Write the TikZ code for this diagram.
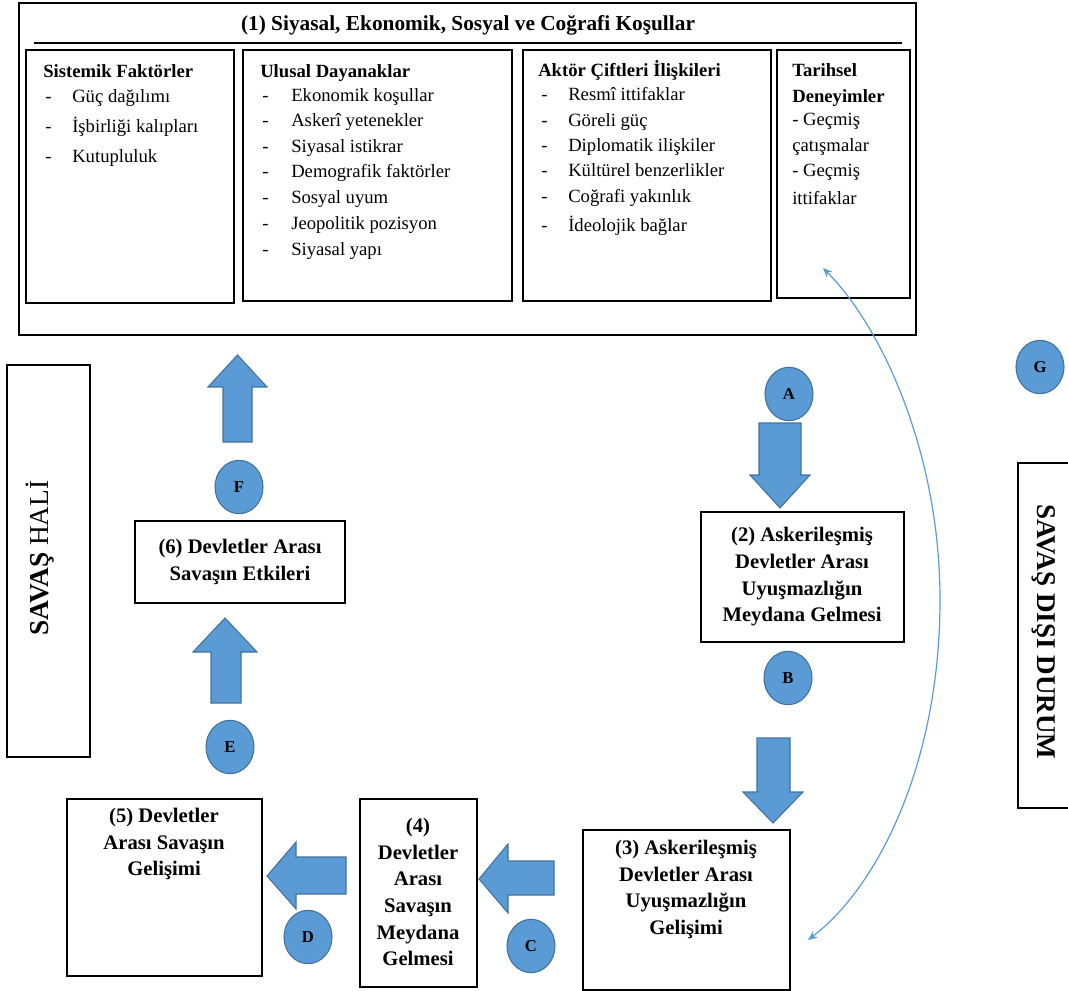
\documentclass[tikz,border=0pt]{standalone}
\usepackage{fontspec}
\setmainfont{Liberation Serif}
\usetikzlibrary{shapes.geometric, fit, arrows.meta}
\definecolor{circblue}{HTML}{5B9BD5}
\definecolor{edgeblue}{HTML}{41719C}
\tikzset{
  box/.style={draw=black, line width=1.1pt, inner sep=0pt},
  boxtext/.style={align=center, inner sep=0pt, font=\bfseries\fontsize{15.5}{20}\selectfont},
  item/.style={anchor=base west, inner sep=0pt, font=\fontsize{14}{17}\selectfont},
  head/.style={anchor=base west, inner sep=0pt, font=\bfseries\fontsize{14}{17}\selectfont},
  circ/.style={ellipse, draw=edgeblue, fill=circblue, line width=0.8pt, minimum width=36pt, minimum height=40pt, inner sep=0pt, font=\bfseries\fontsize{12.5}{14}\selectfont},
  barrow/.style={draw=edgeblue, fill=circblue, line width=0.8pt, line join=miter},
  thinarc/.style={draw=circblue, line width=0.9pt, >={Stealth[length=7pt,width=6pt]}, <->},
}

\begin{document}
\begin{tikzpicture}[x=0.75pt, y=-0.75pt]
\useasboundingbox (0,0) rectangle (1068,991);
% (1) frame and title
\node[box, fit={(19,3) (916,335)}] (cond) {};
\draw[line width=1.1pt] (34,43) -- (902,43);
\node[boxtext, font=\bfseries\fontsize{16}{20}\selectfont] (condtitle) at (468,25) {(1) Siyasal, Ekonomik, Sosyal ve Coğrafi Koşullar};
% inner boxes
\node[box, fit={(26,50) (234,303)}] (sys) {};
\node[box, fit={(243,50) (512,301)}] (nat) {};
\node[box, fit={(523,50) (771,301)}] (pair) {};
\node[box, fit={(777,50) (910,298)}] (hist) {};
% systemic factors
\node[head] (syshead) at (43,78) {Sistemik Faktörler};
\foreach \y/\t [count=\i] in {103/Güç dağılımı, 133/İşbirliği kalıpları, 163/Kutupluluk}{
  \node[item] (sysdash\i) at (45,\y) {-};
  \node[item] (sysitem\i) at (72,\y) {\t};
}
% national
\node[head] (nathead) at (260,78) {Ulusal Dayanaklar};
\foreach \y/\t [count=\i] in {102/Ekonomik koşullar, 127/Askerî yetenekler, 153/Siyasal istikrar,
  178/Demografik faktörler, 204/Sosyal uyum, 230/Jeopolitik pozisyon, 256/Siyasal yapı}{
  \node[item] (natdash\i) at (262,\y) {-};
  \node[item] (natitem\i) at (291,\y) {\t};
}
% actor pairs
\node[head] (pairhead) at (538,77) {Aktör Çiftleri İlişkileri};
\foreach \y/\t [count=\i] in {101/Resmî ittifaklar, 127/Göreli güç, 152/Diplomatik ilişkiler,
  177/Kültürel benzerlikler, 203/Coğrafi yakınlık, 232/İdeolojik bağlar}{
  \node[item] (pairdash\i) at (541,\y) {-};
  \node[item] (pairitem\i) at (568,\y) {\t};
}
% history
\node[head] (histhead1) at (792,77) {Tarihsel};
\node[head] (histhead2) at (792,103) {Deneyimler};
\foreach \y/\t [count=\i] in {126/- Geçmiş, 152/çatışmalar, 177/- Geçmiş, 205/ittifaklar}{
  \node[item] (histitem\i) at (792,\y) {\t};
}
% side boxes
\node[box, fit={(7,365) (90,757)}] (war) {};
\node[rotate=90, inner sep=0pt, font=\fontsize{20.5}{22}\selectfont] (wartext) at (40,558) {\textbf{SAVAŞ} HALİ};
\node[box, fit={(1018,463) (1075,808)}] (peace) {};
\node[rotate=-90, inner sep=0pt, font=\bfseries\fontsize{20.3}{22}\selectfont] (peacetext) at (1044,632) {SAVAŞ DIŞI DURUM};
% stage boxes
\node[box, fit={(701,512) (904,642)}] (s2) {};
\node[boxtext] (s2text) at (802,577) {(2) Askerileşmiş\\Devletler Arası\\Uyuşmazlığın\\Meydana Gelmesi};
\node[box, fit={(583,830) (790,990)}] (s3) {};
\node[boxtext, anchor=north] (s3text) at (686,840) {(3) Askerileşmiş\\Devletler Arası\\Uyuşmazlığın\\Gelişimi};
\node[box, fit={(360,799) (477,987)}] (s4) {};
\node[boxtext] (s4text) at (418,892) {(4)\\Devletler\\Arası\\Savaşın\\Meydana\\Gelmesi};
\node[box, fit={(67,799) (262,976)}] (s5) {};
\node[boxtext, anchor=north] (s5text) at (164,808) {(5) Devletler\\Arası Savaşın\\Gelişimi};
\node[box, fit={(135,521) (345,603)}] (s6) {};
\node[boxtext] (s6text) at (240,562) {(6) Devletler Arası\\Savaşın Etkileri};
% letter circles
\node[circ] (A) at (789,394) {A};
\node[circ] (B) at (788,678) {B};
\node[circ] (C) at (531,946) {C};
\node[circ] (D) at (308,937) {D};
\node[circ] (E) at (230,747) {E};
\node[circ] (F) at (239,487) {F};
\node[circ] (G) at (1040,367) {G};
% block arrows
\draw[barrow] (223,442) -- (223,387) -- (208,387) -- (237.5,355) -- (267,387) -- (252,387) -- (252,442) -- cycle;
\draw[barrow] (211,703) -- (211,652) -- (193,652) -- (225,618) -- (257,652) -- (241,652) -- (241,703) -- cycle;
\draw[barrow] (759,423) -- (759,475) -- (750,475) -- (780,508) -- (810,475) -- (801,475) -- (801,423) -- cycle;
\draw[barrow] (757,738) -- (757,792) -- (743,792) -- (773,823) -- (803,792) -- (790,792) -- (790,738) -- cycle;
\draw[barrow] (554,861) -- (508,861) -- (508,844) -- (479,879) -- (508,913) -- (508,895) -- (554,895) -- cycle;
\draw[barrow] (346,857) -- (296,857) -- (296,842) -- (267,876) -- (296,909) -- (296,894) -- (346,894) -- cycle;
% feedback arc
\coordinate (arctop) at (823,268);
\coordinate (arcbot) at (808,940);
\draw[thinarc] (arctop) .. controls (880,325) and (940,450) .. (940,600) .. controls (940,760) and (880,885) .. (arcbot);
\end{tikzpicture}
\end{document}
